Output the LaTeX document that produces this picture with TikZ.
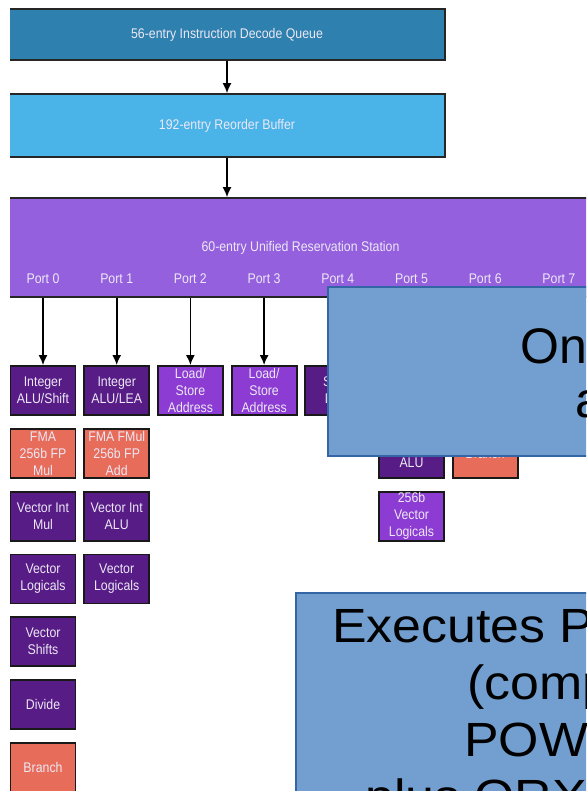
\documentclass[tikz,border=0pt]{standalone}
\usepackage{fontspec}
\setmainfont{Liberation Sans}
\newfontfamily\narrowFont[FakeStretch=0.88]{Liberation Sans}
\newfontfamily\noteFont[FakeStretch=1.08]{Liberation Sans}
\usepackage{tikz}
\usetikzlibrary{arrows.meta}
\tikzstyle{slide} = [x = 1pt, y = -1pt]
\definecolor{queueColor}{RGB}{46,128,174}
\definecolor{bufferColor}{RGB}{74,179,232}
\definecolor{stationColor}{RGB}{149,96,222}
\definecolor{darkUnitColor}{RGB}{88,28,135}
\definecolor{lightUnitColor}{RGB}{140,60,210}
\definecolor{fpUnitColor}{RGB}{232,108,90}
\definecolor{noteColor}{RGB}{114,159,207}
\definecolor{noteLineColor}{RGB}{52,101,164}
\definecolor{labelColor}{RGB}{236,232,245}
\tikzstyle{smallText} = [font=\narrowFont\fontsize{14}{17}\selectfont, text=labelColor]
\tikzstyle{stageStyle} = [draw=black!85, line width=1.6pt, inner sep=0pt, smallText]
\tikzstyle{unitStyle} = [draw=black!90, line width=1.8pt, minimum width=65pt, minimum height=49pt, inner sep=0pt, align=center, smallText]
\tikzstyle{darkUnit} = [unitStyle, fill=darkUnitColor]
\tikzstyle{lightUnit} = [unitStyle, fill=lightUnitColor]
\tikzstyle{fpUnit} = [unitStyle, fill=fpUnitColor]
\tikzstyle{portArrow} = [line width=1.6pt, -{Latex[length=10pt, width=9pt]}]
\tikzstyle{noteStyle} = [fill=noteColor, draw=noteLineColor, line width=1.4pt]
\tikzstyle{noteText} = [anchor=base west, inner sep=0pt, text=black]
\newcommand{\unitBox}[5]{\node [#4] (#1) at ({43 + 73.7 * #3}, {390.5 + 62.8 * #2}) {#5};}
\begin{document}
\begin{tikzpicture}[slide]
        \useasboundingbox (0,0) rectangle (586,791);
        \clip (10,0) rectangle (586,791);
        % pipeline stages
        \node [stageStyle, fill=queueColor, minimum width=436pt, minimum height=51pt] (idq) at (227,34.5) {56-entry Instruction Decode Queue};
        \node [stageStyle, fill=bufferColor, minimum width=436pt, minimum height=63pt] (rob) at (227,125.5) {192-entry Reorder Buffer};
        \node [stageStyle, fill=stationColor, minimum width=583pt, minimum height=99pt] (rs) at (300.5,247.5) {60-entry Unified Reservation Station};
        \foreach \p in {0,...,7} {
          \node [smallText] (port\p) at ({43 + 73.7 * \p}, 279) {Port \p};
        }
        \draw [portArrow] (idq) -- (rob);
        \draw [portArrow] (rob) -- (rob |- rs.north);
        % execution units
        \unitBox{intShift}{0}{0}{darkUnit}{Integer\\ALU/Shift}
        \unitBox{intLea}{0}{1}{darkUnit}{Integer\\ALU/LEA}
        \unitBox{loadStoreA}{0}{2}{lightUnit}{Load/\\Store\\Address}
        \unitBox{loadStoreB}{0}{3}{lightUnit}{Load/\\Store\\Address}
        \unitBox{storeData}{0}{4}{darkUnit}{Store\\Data}
        \unitBox{fmaMul}{1}{0}{fpUnit}{FMA\\256b FP\\Mul}
        \unitBox{fmaAdd}{1}{1}{fpUnit}{FMA FMul\\256b FP\\Add}
        \unitBox{vecAluB}{1}{5}{darkUnit}{\strut\\ALU}
        \unitBox{branchB}{1}{6}{fpUnit}{Branch}
        \unitBox{vecMul}{2}{0}{darkUnit}{Vector Int\\Mul}
        \unitBox{vecAluA}{2}{1}{darkUnit}{Vector Int\\ALU}
        \unitBox{vecLogicB}{2}{5}{lightUnit}{256b\\Vector\\Logicals}
        \unitBox{vecLogicA}{3}{0}{darkUnit}{Vector\\Logicals}
        \unitBox{vecLogicC}{3}{1}{darkUnit}{Vector\\Logicals}
        \unitBox{vecShift}{4}{0}{darkUnit}{Vector\\Shifts}
        \unitBox{divide}{5}{0}{darkUnit}{Divide}
        \unitBox{branchA}{6}{0}{fpUnit}{Branch}
        \foreach \u in {intShift, intLea, loadStoreA, loadStoreB} {
          \draw [portArrow] (\u |- rs.south) -- (\u);
        }
        % overlay notes
        \draw [noteStyle] (328,287) rectangle (600,456);
        \draw [noteStyle] (296,593) rectangle (600,800);
        \node [noteText, font=\fontsize{50}{60}\selectfont] (onText) at (520.5,363) {On};
        \node [noteText, font=\fontsize{50}{60}\selectfont] (aText) at (575,417) {a};
        \node [noteText, font=\noteFont\fontsize{48}{57}\selectfont] (execText) at (332,642) {Executes P};
        \node [noteText, font=\noteFont\fontsize{48}{57}\selectfont] (compText) at (467,699) {(comp};
        \node [noteText, font=\noteFont\fontsize{48}{57}\selectfont] (powText) at (464,756) {POW};
        \node [noteText, font=\noteFont\fontsize{48}{57}\selectfont] (plusText) at (365,813) {plus ORX};
      \end{tikzpicture}
\end{document}
